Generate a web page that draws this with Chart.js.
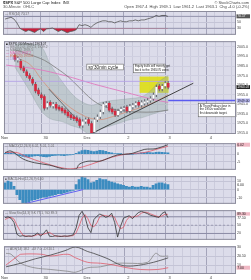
<!DOCTYPE html>
<html><head><meta charset="utf-8">
<script src="https://cdn.jsdelivr.net/npm/chart.js@4.4.1/dist/chart.umd.min.js"></script>
<style>
html,body{margin:0;padding:0;background:#fff;}
body{width:251px;height:280px;position:relative;overflow:hidden;}
canvas{position:absolute;left:0;}
</style></head><body>
<canvas id="rsi" width="251" height="38" style="top:0"></canvas>
<canvas id="price" width="251" height="102" style="top:38px"></canvas>
<canvas id="macd" width="251" height="33" style="top:140px"></canvas>
<canvas id="hist" width="251" height="34" style="top:173px"></canvas>
<canvas id="stoch" width="251" height="36" style="top:207px"></canvas>
<canvas id="adx" width="251" height="37" style="top:243px"></canvas>
<script>
// bar index 0 = first slot of the chart, candles start at firstBar
const firstBar = 3;
const opens  = [1996,1991,1990,1983,1979,1975,1971,1966,1960,1955,1953,1942,1947,1943,1945,1942,1941,1939,1937,1934,1932,1931,1929,1923,1927,1929,1925,1916,1929,1932,1937,1944,1946,1940,1938,1934,1938,1940,1942,1938,1942,1944,1947,1944,1946,1947,1949,1951,1955,1964,1961,1964,1967];
const highs  = [1998,1995,1992,1985,1981,1977,1973,1968,1962,1957,1955,1948,1949,1947,1947,1944,1943,1941,1939,1936,1934,1933,1931,1929,1931,1931,1927,1931,1934,1939,1947,1948,1948,1942,1940,1940,1942,1943,1944,1945,1946,1948,1949,1949,1950,1951,1953,1957,1965,1966,1966,1969,1969];
const lows   = [1990,1989,1981,1978,1973,1970,1965,1957,1954,1950,1939,1940,1942,1941,1939,1938,1936,1934,1931,1929,1928,1926,1921,1921,1925,1923,1913,1914,1927,1930,1935,1942,1937,1935,1932,1932,1936,1938,1936,1936,1940,1942,1942,1942,1944,1945,1947,1949,1953,1959,1959,1962,1961];
const closes = [1992,1993,1983,1980,1975,1972,1967,1959,1956,1952,1941,1946,1944,1945,1941,1940,1938,1936,1933,1931,1930,1928,1923,1927,1929,1925,1915,1929,1932,1937,1945,1946,1939,1937,1934,1938,1940,1941,1938,1943,1944,1946,1944,1947,1948,1949,1951,1955,1963,1961,1964,1967,1963];

// overlays, [bar, price]
const maSlow  = [[3,2002],[8,1997],[13,1991],[17,1983],[21,1974],[25,1962],[28,1953],[31,1946],[35,1941],[40,1938],[45,1937],[50,1937],[55,1939]];
const maMid   = [[0,1986],[10,1982],[20,1975],[30,1966],[40,1958],[50,1950],[55,1947]];
const maFast  = [[3,1994],[8,1987],[12,1971],[16,1957],[20,1946],[24,1937],[28,1931],[32,1929],[36,1932],[40,1936],[44,1940],[48,1944],[52,1950],[55,1955]];
const bandX     = [3,8,12,15,19,22,25,29,32,36,39,42,46,49,52,55];
const bandUpper = [2008,2008,2005,1987,1969,1957,1949,1944,1947,1949,1950,1951,1953,1959,1969,1975];
const bandLower = [1984,1959,1938,1930,1927,1923,1920,1913,1919,1923,1926,1929,1931,1934,1937,1939];
const resistLine = [[-0.7,1969],[63.5,1969]];
const targetLine = [[55,1949],[78,1949]];
const upTrend    = [[28.7,1914],[63.5,1967]];
const downTrend  = [[14.5,1961],[25.3,1925]];

// indicators, one value per bar from 0
const rsi = [61,64,67,61,48,30,24,19,24,20,16,23,28,19,28,29,31,25,19,24,20,15,19,21,25,42,39,42,39,33,42,48,52,55,55,52,52,48,52,55,52,52,55,55,58,55,58,58,61,64,67,73,70,73,73,70];
const macdLine   = [[0,1],[2,2],[6,-3],[10,-5.5],[15,-7],[20,-9.5],[24,-9.5],[25,-6.5],[28,-4.5],[32,-4.5],[35,-2.5],[38,-0.5],[43,0.5],[47,3],[51,3.5],[55,6]];
const signalLine = [[0,1],[4,1],[7,-1.5],[13,-5.5],[20,-9],[24,-9],[29,-6.5],[36,-2],[41,0],[47,1],[51,3],[55,5]];
const macdHist = [0.5,1,0.8,0.3,-0.5,-1,-1.5,-1.8,-2,-1.5,-1.2,-1,-1.3,-1.6,-1.8,-1.5,-1,-0.8,-0.6,-0.8,-1,-0.7,-0.5,-0.3,0.5,1.5,2.2,2.6,2.4,2,1.6,2,2.5,2.2,1.8,1.2,0.8,0.4,0.2,0.1,-0.2,-0.4,-0.3,-0.2,0.2,0.5,0.8,1,1.2,1,0.8,1.1,1.3,1.2,1,0.8];
const momHist = [8,10,9,4,-6,-12,-16,-16,-15,-13,-12,-11,-10,-9,-9,-8,-7,-6,-5,-5,-4,-3,-2,-1,6,12,15,14,12,8,9,11,13,12,12,10,9,8,7,6,5,4,3,4,3,3,4,3,3,2,5,7,8,8,7,6];
const momDiverge = [[6.8,-16.7],[26.4,0]];
const stochK = [77,80,75,60,17,10,12,9,11,10,14,22,10,20,33,10,9,12,10,9,11,10,12,15,40,85,100,80,40,23,70,82,90,85,78,82,93,60,7,45,75,80,84,73,85,95,100,96,92,86,83,80,78,92,98,77];
const stochD = [70,76,78,72,50,30,14,11,10,10,12,16,15,17,21,24,17,10,10,10,10,10,11,12,22,47,75,88,73,48,44,58,80,86,84,82,84,78,53,37,42,67,80,79,81,84,93,97,96,91,87,83,80,83,89,89];
const adx     = [[0,8],[5,12],[10,17],[15,21],[20,26],[23.6,30],[27.7,25],[29.7,23],[34.5,17],[38.9,10],[43.2,9],[50,13],[55,18]];
const diPlus  = [[0,10],[4,20],[5,22],[12,22],[15,20],[21,22],[23.6,18],[27.7,13],[32,12],[36.5,10],[41,7],[45.6,5],[51.4,5],[55,7]];
const diMinus = [[0,23],[1.7,22],[5,12],[9.5,7],[15.2,5],[21,3],[23.6,2],[27.7,7],[32,8],[37.8,12],[41,12],[48,13],[50.7,23],[52.4,20],[55,20]];

const dayLabels = ['Nov','30','Dec','2','3','4'];

const FONT = 'Liberation Sans';
const BG = '#dcdcea';
const pts = arr => arr.map(p => ({x: p[0], y: p[1]}));
const perBar = arr => arr.map((v, i) => ({x: i, y: v}));

const xTicks = [];
for (let v = -0.5; v <= 78; v += 2.8) xTicks.push(Math.round(v * 10) / 10);

const panelPlugin = {
    id: 'panel',
    beforeDraw(chart) {
        const a = chart.chartArea, c = chart.ctx;
        c.save();
        c.fillStyle = BG;
        c.fillRect(a.left, a.top, a.right - a.left, a.bottom - a.top);
        c.restore();
    },
    afterDraw(chart) {
        const a = chart.chartArea, c = chart.ctx;
        const o = chart.options.plugins.panel || {};
        c.save();
        c.strokeStyle = '#8c8c9c';
        c.lineWidth = 1;
        c.strokeRect(a.left + 0.5, a.top + 0.5, a.right - a.left - 1, a.bottom - a.top - 1);
        c.font = '3.2px ' + FONT;
        c.textBaseline = 'top';
        (o.labels || []).forEach((l, k) => {
            c.fillStyle = l[1];
            c.fillText(l[0], a.left + 2, a.top + 1.5 + k * 2.9);
        });
        // last-value tags on the right axis
        const y = chart.scales.y;
        c.font = '3.4px ' + FONT;
        c.textBaseline = 'middle';
        (o.tags || []).forEach(t => {
            const py = y.getPixelForValue(t[0]);
            c.fillStyle = t[1];
            c.fillRect(a.right + 0.5, py - 2, 13.5, 4);
            c.fillStyle = t[2];
            c.fillText(t[0].toFixed(2), a.right + 1.2, py + 0.2);
        });
        c.restore();
    }
};

function makeChart(id, opt) {
    const showX = !!opt.showX;
    return new Chart(id, {
        type: 'bar',
        data: { datasets: opt.datasets },
        plugins: [panelPlugin].concat(opt.plugins || []),
        options: {
            responsive: false,
            animation: false,
            devicePixelRatio: 1,
            layout: { padding: { left: 3, right: 0, top: opt.padTop || 1, bottom: opt.padBottom || 0 } },
            plugins: { legend: { display: false }, tooltip: { enabled: false }, panel: { labels: opt.labels, tags: opt.tags } },
            scales: {
                x: {
                    type: 'linear', min: -0.7, max: 78, offset: false,
                    afterBuildTicks: s => { s.ticks = xTicks.map(v => ({ value: v })); },
                    grid: {
                        drawTicks: false, lineWidth: 1,
                        color: ctx => (ctx.index % 5 === 0 ? '#a4a4ba' : '#cbcbdc')
                    },
                    border: { display: false },
                    ticks: {
                        display: showX, autoSkip: false, maxRotation: 0, padding: 1,
                        font: { size: 4, family: FONT }, color: '#444',
                        callback: (v, i) => (i % 5 === 0 ? dayLabels[i / 5] || '' : '')
                    },
                    afterFit: s => { s.height = showX ? 6 : 0; }
                },
                y: {
                    position: 'right', min: opt.yMin, max: opt.yMax,
                    afterBuildTicks: s => { s.ticks = opt.yTicks.map(v => ({ value: v })); },
                    grid: { drawTicks: false, color: opt.gridColor || '#c4c4d6', lineWidth: 1 },
                    border: { display: false },
                    ticks: {
                        padding: 1, font: { size: 3.6, family: FONT }, color: '#444',
                        callback: opt.yFmt || (v => v)
                    },
                    afterFit: s => { s.width = 15; }
                }
            }
        }
    });
}

const line = (data, color, w, order, extra) => Object.assign({
    type: 'line', data, borderColor: color, borderWidth: w, pointRadius: 0,
    tension: 0.35, fill: false, order
}, extra || {});

// header + RSI
makeChart('rsi', {
    padTop: 11, padBottom: 1,
    yMin: 8, yMax: 88, yTicks: [30, 50, 70],
    labels: [['— RSI(14) 70.17', '#666']],
    tags: [[70.17, '#555', '#fff']],
    datasets: [
        line(perBar(rsi), '#555', 0.8, 1, { tension: 0, fill: { target: { value: 30 }, below: '#c8203c', above: 'rgba(0,0,0,0)' } }),
        line(perBar(rsi), 'rgba(0,0,0,0)', 0, 2, { tension: 0, fill: { target: { value: 70 }, above: '#4c4c66', below: 'rgba(0,0,0,0)' } }),
        line(pts([[-0.7, 70], [78, 70]]), '#8a8aa6', 0.8, 3, { tension: 0 }),
        line(pts([[-0.7, 30], [78, 30]]), '#8a8aa6', 0.8, 3, { tension: 0 })
    ],
    plugins: [{
        id: 'header',
        afterDraw(chart) {
            const c = chart.ctx;
            c.save();
            c.textBaseline = 'top';
            c.fillStyle = '#222';
            c.font = 'bold 4px ' + FONT;
            c.fillText('$SPX', 3, 1);
            c.font = '4px ' + FONT;
            c.fillText('S&P 500 Large Cap Index  INX', 14, 1);
            c.fillStyle = '#555';
            c.fillText('30-Minute  OHLC', 3, 5);
            c.textAlign = 'right';
            c.fillStyle = '#444';
            c.fillText('© StockCharts.com', 249, 1);
            c.fillText('Open 1967.4  High 1969.1  Low 1961.2  Last 1963.1  Chg -4.0 (-0.2%)', 249, 5);
            c.restore();
        }
    }]
});

// price panel
const mainTicks = [];
for (let v = 1915; v <= 2010; v += 5) mainTicks.push(v);
const down = closes.map((c, k) => c < opens[k]);
makeChart('price', {
    showX: true, padTop: 1,
    yMin: 1914, yMax: 2011, yTicks: mainTicks, yFmt: v => v.toFixed(1),
    gridColor: '#cfcfe0',
    labels: [
        ['■ $SPX (30 Minute) 1963.07', '#222'],
        ['— BB(20,2.0) 1975.3, 1939.2', '#777'],
        ['— MA(200) 1939.5', '#777'],
        ['— MA(50) 1947.2', '#d85aa0'],
        ['— EMA(20) 1955.0', '#c8705a'],
        ['— 1969.0', '#9a8ad8']
    ],
    tags: [[1963.07, '#222', '#fff'], [1949, '#b8b8f4', '#222']],
    datasets: [
        { type: 'bar', grouped: false, order: 1, barThickness: 2,
          data: closes.map((c, k) => ({ x: k + firstBar, y: [opens[k], c] })),
          backgroundColor: down.map(d => (d ? '#d42a40' : '#ffffff')),
          borderColor: down.map(d => (d ? '#8a1524' : '#a0a0a8')),
          borderWidth: down.map(d => (d ? 0 : 0.3)), borderSkipped: false },
        { type: 'bar', grouped: false, order: 2, barThickness: 0.5,
          data: lows.map((l, k) => ({ x: k + firstBar, y: [l, highs[k]] })),
          backgroundColor: '#6a6a72' },
        line(pts(upTrend), '#333', 0.9, 3, { tension: 0 }),
        line(pts(downTrend), '#555', 0.8, 3, { tension: 0 }),
        line(pts(targetLine), '#5a5af0', 1.4, 3, { tension: 0 }),
        line(pts(resistLine), '#b4a4e6', 0.9, 4, { tension: 0 }),
        line(pts(maSlow), '#7c7c7c', 0.8, 4),
        line(pts(maMid), '#e07ac0', 0.9, 4),
        line(pts(maFast), '#d88a70', 0.7, 4),
        line(bandX.map((x, k) => ({ x, y: bandUpper[k] })), 'rgba(120,140,140,0.5)', 0.5, 6,
             { fill: '+1', backgroundColor: 'rgba(150,172,168,0.42)' }),
        line(bandX.map((x, k) => ({ x, y: bandLower[k] })), 'rgba(120,140,140,0.5)', 0.5, 6)
    ],
    plugins: [{
        id: 'notes',
        beforeDatasetsDraw(chart) {
            const x = chart.scales.x, y = chart.scales.y, c = chart.ctx;
            c.save();
            c.fillStyle = 'rgba(222,222,20,0.9)';
            const x0 = x.getPixelForValue(45.3), x1 = x.getPixelForValue(55.1);
            const y0 = y.getPixelForValue(1974), y1 = y.getPixelForValue(1957);
            c.fillRect(x0, y0, x1 - x0, y1 - y0);
            c.restore();
        },
        afterDatasetsDraw(chart) {
            const x = chart.scales.x, y = chart.scales.y, c = chart.ctx;
            const box = (i0, i1, p0, p1, lines, size) => {
                const x0 = x.getPixelForValue(i0), x1 = x.getPixelForValue(i1);
                const y0 = y.getPixelForValue(p0), y1 = y.getPixelForValue(p1);
                c.fillStyle = '#fff';
                c.fillRect(x0, y0, x1 - x0, y1 - y0);
                c.strokeStyle = '#666';
                c.lineWidth = 0.6;
                c.strokeRect(x0, y0, x1 - x0, y1 - y0);
                c.fillStyle = '#222';
                c.font = size + 'px ' + FONT;
                c.textBaseline = 'top';
                lines.forEach((t, k) => c.fillText(t, x0 + 1.5, y0 + 1 + k * (size + 0.6)));
            };
            c.save();
            box(27.4, 39.9, 1987, 1981, ['sp\'30min cycle'], 4.6);
            box(43.2, 54, 1987, 1978, ['Equity bulls will merely get', 'back to the 1965/70 zone.'], 3);
            box(65.2, 78, 1946, 1932, ['A Thurs/Friday close in', 'the 1950s would be', 'first downside target.'], 3);
            c.restore();
        }
    }]
});

makeChart('macd', {
    yMin: -10, yMax: 7, yTicks: [-5, 0, 5],
    labels: [['— MACD(12,26,9) 6.02, 5.01, 1.01', '#666']],
    tags: [[6.02, '#f0b8c4', '#222']],
    datasets: [
        { type: 'bar', grouped: false, order: 3, barThickness: 2.2, data: perBar(macdHist), backgroundColor: '#3c8cc0' },
        line(pts(macdLine), '#333', 0.8, 1),
        line(pts(signalLine), '#e05a6a', 0.8, 2)
    ]
});

makeChart('hist', {
    yMin: -17, yMax: 16, yTicks: [-10, 0, 10],
    labels: [['■ MACD-Hist(12,26,9) 6.00', '#666']],
    tags: [[6.0, '#fff', '#222']],
    datasets: [
        line(pts(momDiverge), '#6060f0', 1, 1, { tension: 0 }),
        { type: 'bar', grouped: false, order: 2, barThickness: 2.2, data: perBar(momHist), backgroundColor: '#3c8cc0' }
    ]
});

makeChart('stoch', {
    yMin: -3, yMax: 104, yTicks: [20, 50, 80],
    labels: [['— Slow Sto(14,3) %K 77.1, %D 89.3', '#666']],
    tags: [[89.3, '#f0b8c4', '#222'], [77.1, '#fff', '#222']],
    datasets: [
        line(perBar(stochK), '#333', 0.8, 1, { tension: 0 }),
        line(perBar(stochD), '#e05a6a', 0.8, 2, { tension: 0 }),
        line(pts([[-0.7, 80], [78, 80]]), '#7e7e9a', 0.8, 3, { tension: 0 }),
        line(pts([[-0.7, 20], [78, 20]]), '#7e7e9a', 0.8, 3, { tension: 0 }),
        line(pts([[-0.7, 50], [78, 50]]), '#7e7e9a', 0.6, 3, { tension: 0, borderDash: [2, 2] })
    ]
});

makeChart('adx', {
    showX: true, yMin: 0, yMax: 31, yTicks: [10, 20, 30],
    labels: [['— ADX(14) 18.2  +DI 7.0  -DI 20.1', '#666']],
    tags: [[20.1, '#fff', '#222'], [7.0, '#f0b8c4', '#222']],
    datasets: [
        line(pts(adx), '#444', 0.8, 1),
        line(pts(diPlus), '#e05a6a', 0.8, 2),
        line(pts(diMinus), '#888', 0.8, 3)
    ]
});
</script>
</body></html>
